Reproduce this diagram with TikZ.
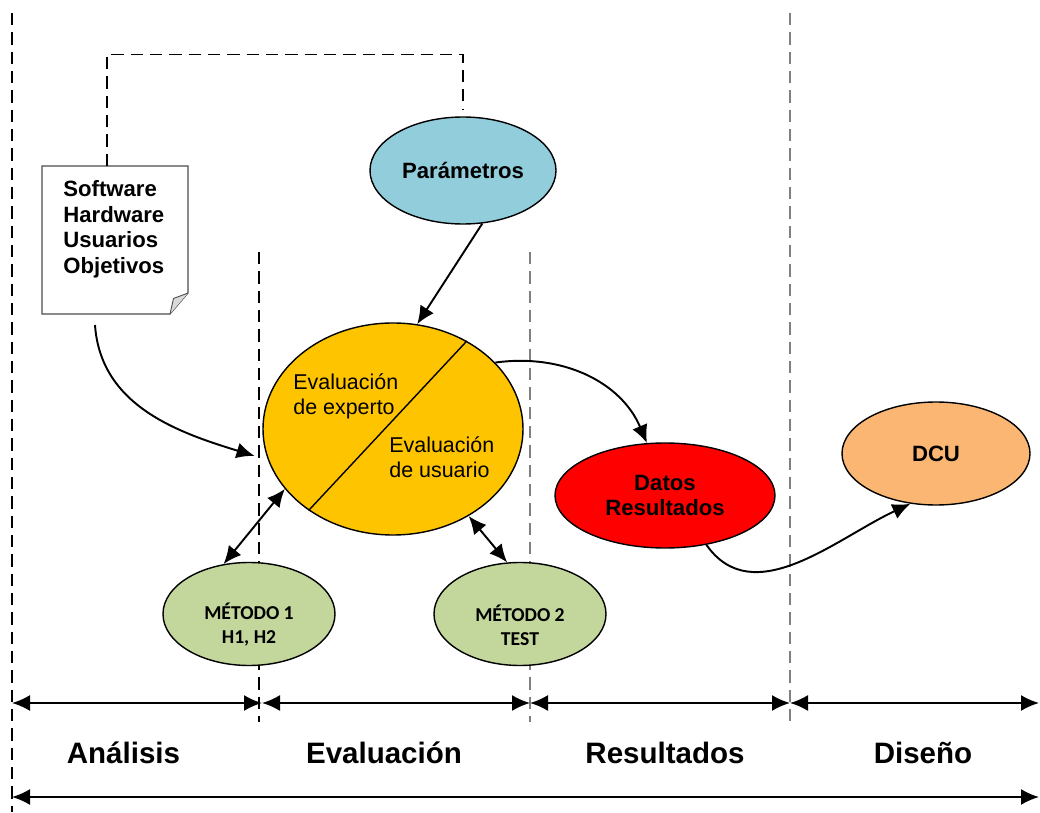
\documentclass[tikz,border=0pt]{standalone}
\usepackage{fontspec}
\setmainfont{Liberation Sans}
\newfontfamily\calfont{Carlito}
\usepackage{tikz}
\usetikzlibrary{arrows.meta,calc,shapes.geometric}

\definecolor{paramblue}{HTML}{92CDDC}
\definecolor{evalyellow}{HTML}{FFC400}
\definecolor{metgreen}{HTML}{C3D69B}
\definecolor{dcuorange}{HTML}{FBB673}

\begin{document}
\begin{tikzpicture}[>={Latex[length=3.6mm,width=3.2mm]},
	every node/.style={inner sep=0pt},
	elli/.style={ellipse, draw, line width=0.8pt},
	boldtxt/.style={font=\fontsize{12.6}{14.6}\selectfont\bfseries, align=center},
	evaltxt/.style={font=\fontsize{12.2}{14.2}\selectfont, align=left, anchor=west},
	mettxt/.style={font=\calfont\fontsize{11.2}{13.7}\selectfont\bfseries, align=center},
	phasetxt/.style={font=\fontsize{16.8}{18}\selectfont\bfseries, anchor=base},
	conn/.style={->, line width=1.1pt},
	span/.style={<->, line width=1.1pt},
	phaseline/.style={dash pattern=on 7pt off 4pt, line width=0.8pt}]
	\useasboundingbox (0,0) rectangle (20.8,16.24);

	% phase separators
	\draw[phaseline] (0.24,15.98) -- (0.24,0);
	\draw[phaseline] (5.18,11.2) -- (5.18,1.8);
	\draw[phaseline, gray] (10.6,11.2) -- (10.6,1.8);
	\draw[phaseline, gray] (15.8,15.98) -- (15.8,1.8);

	% note with folded corner
	\draw[line width=0.7pt, draw=black!70, fill=white] (0.84,12.92) -- (3.76,12.92) -- (3.76,10.38) -- (3.40,9.96) -- (0.84,9.96) -- cycle;
	\draw[line width=0.5pt, draw=black!70, fill=black!15] (3.76,10.38) -- (3.47,10.27) -- (3.40,9.96);
	\node[boldtxt, align=left, anchor=north west] (specs) at (1.26,12.64) {Software\\Hardware\\Usuarios\\Objetivos};
	\coordinate (noteTop) at (2.14,12.92);
	\coordinate (noteOut) at (1.9,9.74);

	% ellipses
	\node[elli, fill=paramblue, minimum width=3.72cm, minimum height=2.14cm, boldtxt] (param) at (9.26,12.83) {Parámetros};
	\node[elli, fill=evalyellow, minimum width=5.2cm, minimum height=4.24cm] (yel) at (7.86,7.66) {};
	\draw[line width=0.8pt] (yel.50) -- (yel.224);
	\node[evaltxt] (expert) at (5.86,8.32) {Evaluación\\de experto};
	\node[evaltxt] (usuario) at (7.78,7.10) {Evaluación\\de usuario};
	\node[elli, fill=metgreen, minimum width=3.44cm, minimum height=2.06cm] (m1) at (4.98,3.96) {};
	\node[mettxt] (m1txt) at ([yshift=-2.2mm]m1.center) {MÉTODO 1\\H1, H2};
	\node[elli, fill=metgreen, minimum width=3.44cm, minimum height=2.06cm] (m2) at (10.4,3.96) {};
	\node[mettxt] (m2txt) at ([yshift=-2.2mm]m2.center) {MÉTODO 2\\TEST};
	\node[elli, fill=red, minimum width=4.4cm, minimum height=2.1cm, boldtxt] (datos) at (13.3,6.33) {Datos\\Resultados};
	\node[elli, fill=dcuorange, minimum width=3.76cm, minimum height=2.06cm, boldtxt] (dcu) at (18.72,7.17) {DCU};

	% connectors
	\draw[phaseline] (noteTop) |- ([yshift=12.4mm]param.north) -- ([yshift=1.4mm]param.north);
	\draw[conn] (noteOut) to[out=-86,in=163] ([xshift=-2.4mm]yel.192);
	\draw[conn] (param.-70) -- (yel.77);
	\draw[conn] (yel.33) to[out=8,in=113] (datos.109);
	\draw[conn] (datos.-50) to[out=-55,in=205] (dcu.243);
	\draw[span] (m1.117) -- (yel.209);
	\draw[span] (yel.-49) -- (m2.104);

	% phases
	\coordinate (s0) at (0.24,2.18);
	\coordinate (s1) at (5.24,2.18);
	\coordinate (s2) at (10.6,2.18);
	\coordinate (s3) at (15.8,2.18);
	\coordinate (s4) at (20.78,2.18);
	\draw[span] (s0) -- (s1);
	\draw[span] (s1) -- (s2);
	\draw[span] (s2) -- (s3);
	\draw[span] (s3) -- (s4);
	\draw[span] (0.24,0.30) -- (20.78,0.30);
	\node[phasetxt] (analisis) at (2.47,0.98) {Análisis};
	\node[phasetxt] (evaluacion) at (7.68,0.98) {Evaluación};
	\node[phasetxt] (resultados) at (13.3,0.98) {Resultados};
	\node[phasetxt] (diseno) at (18.46,0.98) {Diseño};
\end{tikzpicture}
\end{document}
